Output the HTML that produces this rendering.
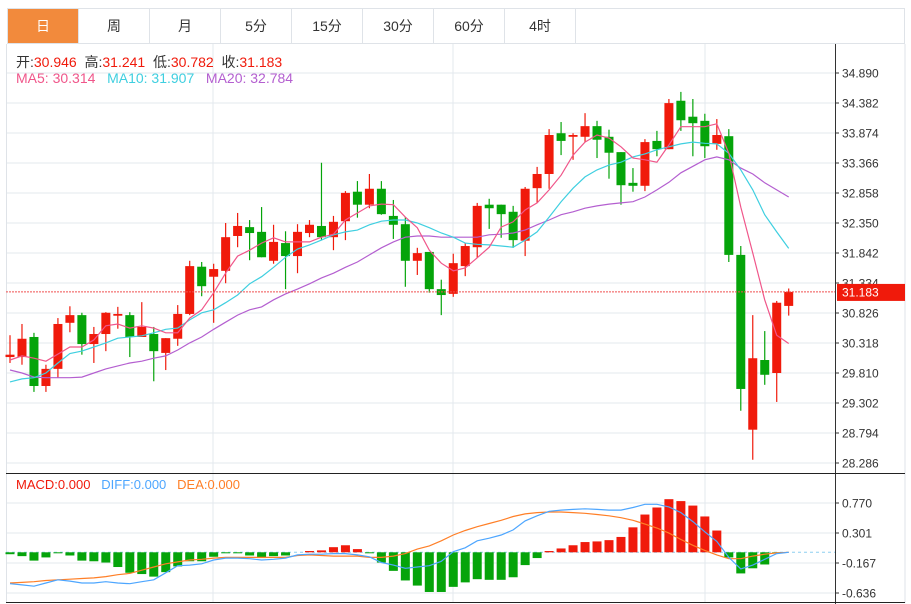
<!DOCTYPE html>
<html><head><meta charset="utf-8">
<style>
body{margin:0;background:#fff;width:911px;height:604px;overflow:hidden;font-family:"Liberation Sans","Noto Sans CJK SC",sans-serif;position:relative}
.tabs{position:absolute;left:7px;top:8px;width:898px;height:36px;border:1px solid #dfe3e8;box-sizing:border-box;display:flex}
.tab{width:70px;height:34px;line-height:34px;text-align:center;font-size:14px;color:#333;border-right:1px solid #dfe3e8}
.tab.on{background:#f28a3c;color:#fff}
.lg{position:absolute;font-size:14px;white-space:nowrap}
svg{position:absolute;left:0;top:0}
</style></head><body>
<div class="tabs">
<div class="tab on">日</div>
<div class="tab">周</div>
<div class="tab">月</div>
<div class="tab">5分</div>
<div class="tab">15分</div>
<div class="tab">30分</div>
<div class="tab">60分</div>
<div class="tab">4时</div>
</div>
<svg id="c" width="911" height="604"></svg>
<div class="lg" style="left:16px;top:52px;color:#333">开:<span style="color:#f01a0b">30.946</span>&nbsp;&nbsp;高:<span style="color:#f01a0b">31.241</span>&nbsp;&nbsp;低:<span style="color:#f01a0b">30.782</span>&nbsp;&nbsp;收:<span style="color:#f01a0b">31.183</span></div>
<div class="lg" style="left:16px;top:70px"><span style="color:#f0568a">MA5: 30.314</span>&nbsp;&nbsp;&nbsp;<span style="color:#3fcfe0">MA10: 31.907</span>&nbsp;&nbsp;&nbsp;<span style="color:#b45fd0">MA20: 32.784</span></div>
<div class="lg" style="left:16px;top:477px;font-size:13px"><span style="color:#f01a0b">MACD:0.000</span>&nbsp;&nbsp;&nbsp;<span style="color:#4da6ff">DIFF:0.000</span>&nbsp;&nbsp;&nbsp;<span style="color:#ff7f27">DEA:0.000</span></div>
<script>
const opens=[30.08,30.08,30.42,29.59,29.88,30.66,30.79,30.30,30.47,30.78,30.79,30.42,30.47,30.15,30.39,30.81,31.61,31.44,31.54,32.13,32.28,32.20,31.71,32.01,31.79,32.18,32.30,32.11,32.38,32.88,32.66,32.93,32.47,32.33,31.71,31.86,31.23,31.15,31.62,31.94,32.66,32.66,32.54,32.05,32.94,33.18,33.87,33.81,33.81,33.99,33.81,33.55,33.03,32.98,33.74,33.60,34.42,34.15,34.08,33.69,33.82,31.81,28.85,30.03,29.81,30.946];
const closes=[30.12,30.39,29.59,29.88,30.64,30.79,30.30,30.47,30.83,30.81,30.42,30.59,30.18,30.40,30.81,31.62,31.28,31.57,32.11,32.30,32.18,31.77,32.03,31.79,32.20,32.32,32.11,32.37,32.86,32.66,32.93,32.50,32.32,31.71,31.84,31.23,31.13,31.67,31.96,32.64,32.60,32.50,32.06,32.93,33.18,33.84,33.74,33.84,33.99,33.76,33.54,32.99,32.98,33.72,33.60,34.38,34.09,34.04,33.65,33.84,31.81,29.54,30.06,29.78,31.00,31.183];
const highs=[30.45,30.64,30.49,29.95,30.74,30.94,30.83,30.59,30.84,30.93,30.84,31.01,30.59,30.40,30.96,31.71,31.69,31.66,32.35,32.52,32.40,32.62,32.32,32.21,32.33,32.40,33.37,32.47,32.89,33.06,33.18,33.06,32.74,32.45,31.93,31.86,31.39,31.83,32.01,32.69,32.76,32.66,32.64,32.96,33.30,33.94,34.06,33.87,34.21,34.08,33.93,33.55,33.28,33.77,33.91,34.45,34.57,34.45,34.20,34.11,33.94,31.96,30.79,30.52,31.03,31.241];
const lows=[29.98,29.95,29.49,29.49,29.73,30.50,30.12,29.98,30.18,30.56,30.08,30.42,29.67,29.86,30.27,30.79,31.11,30.66,31.33,31.94,31.72,31.77,31.66,31.23,31.50,32.11,32.06,31.89,32.06,32.44,32.60,32.49,32.08,31.27,31.47,31.17,30.79,31.10,31.45,31.76,32.25,32.10,31.93,31.79,32.69,32.93,33.50,33.42,33.72,33.45,33.10,32.66,32.88,32.89,33.48,33.60,33.91,33.48,33.45,33.59,31.69,29.17,28.34,29.61,29.32,30.782];
const ma5=[30.03,30.10,30.06,30.01,30.13,30.25,30.25,30.37,30.61,30.64,30.57,30.61,30.57,30.49,30.49,30.74,30.88,31.17,31.50,31.79,31.89,32.01,32.10,32.03,32.03,32.03,32.11,32.16,32.40,32.52,32.64,32.67,32.66,32.45,32.27,31.89,31.67,31.54,31.59,31.76,31.94,32.28,32.37,32.57,32.69,32.91,33.16,33.50,33.72,33.84,33.79,33.64,33.45,33.42,33.38,33.67,33.98,33.98,33.98,34.03,33.53,32.62,31.84,31.05,30.45,30.31];
const ma10=[29.66,29.71,29.73,29.81,29.98,30.14,30.18,30.25,30.32,30.40,30.42,30.44,30.49,30.55,30.57,30.71,30.83,30.88,31.00,31.13,31.32,31.44,31.60,31.77,31.91,31.98,32.06,32.15,32.20,32.23,32.32,32.38,32.40,32.40,32.35,32.27,32.18,32.11,32.01,31.99,31.98,31.96,31.94,32.06,32.20,32.45,32.71,32.94,33.13,33.25,33.33,33.38,33.47,33.52,33.59,33.64,33.69,33.72,33.70,33.69,33.53,33.25,32.91,32.49,32.20,31.92];
const ma20=[29.86,29.81,29.74,29.73,29.73,29.73,29.74,29.81,29.88,29.93,29.98,30.01,30.06,30.10,30.20,30.32,30.42,30.55,30.67,30.79,30.88,30.93,31.05,31.15,31.23,31.32,31.42,31.50,31.60,31.69,31.81,31.93,32.03,32.11,32.13,32.13,32.11,32.11,32.11,32.11,32.15,32.16,32.18,32.23,32.32,32.40,32.49,32.54,32.60,32.64,32.67,32.69,32.71,32.79,32.91,33.04,33.20,33.31,33.42,33.47,33.42,33.28,33.18,33.03,32.91,32.79];
const macd=[-0.03,-0.06,-0.13,-0.08,-0.01,-0.05,-0.13,-0.14,-0.16,-0.23,-0.32,-0.34,-0.38,-0.31,-0.22,-0.14,-0.14,-0.07,-0.01,-0.01,-0.05,-0.09,-0.06,-0.05,0,0.02,0.03,0.08,0.11,0.05,-0.01,-0.16,-0.29,-0.44,-0.52,-0.62,-0.62,-0.54,-0.47,-0.42,-0.43,-0.43,-0.39,-0.20,-0.09,0.02,0.06,0.11,0.16,0.17,0.19,0.24,0.39,0.59,0.70,0.83,0.80,0.73,0.56,0.34,-0.08,-0.33,-0.25,-0.19,-0.01,0];
const diff=[-0.49,-0.51,-0.53,-0.48,-0.43,-0.45,-0.48,-0.48,-0.46,-0.48,-0.49,-0.46,-0.43,-0.32,-0.21,-0.20,-0.18,-0.12,-0.09,-0.09,-0.10,-0.12,-0.11,-0.09,-0.04,-0.03,-0.03,-0.02,-0.02,-0.04,-0.07,-0.16,-0.20,-0.25,-0.23,-0.21,-0.14,0.01,0.07,0.18,0.22,0.27,0.35,0.49,0.57,0.64,0.66,0.67,0.68,0.67,0.66,0.66,0.70,0.75,0.75,0.71,0.62,0.48,0.32,0.17,-0.08,-0.26,-0.20,-0.11,-0.02,0];
const dea=[-0.48,-0.47,-0.46,-0.44,-0.43,-0.42,-0.41,-0.40,-0.38,-0.35,-0.33,-0.28,-0.23,-0.18,-0.15,-0.12,-0.11,-0.09,-0.08,-0.08,-0.08,-0.08,-0.08,-0.08,-0.05,-0.04,-0.05,-0.06,-0.06,-0.06,-0.08,-0.08,-0.06,-0.02,0.05,0.10,0.18,0.27,0.34,0.40,0.45,0.50,0.56,0.60,0.62,0.63,0.63,0.62,0.61,0.59,0.57,0.54,0.50,0.44,0.38,0.30,0.20,0.11,0.03,-0.04,-0.10,-0.10,-0.06,-0.03,-0.01,0];
const priceTicks=["34.890","34.382","33.874","33.366","32.858","32.350","31.842","31.334","30.826","30.318","29.810","29.302","28.794","28.286"];
const macdTicks=["0.770","0.301","-0.167","-0.636"];
const lastPrice=31.183;

const svg=document.getElementById('c');
const NS='http://www.w3.org/2000/svg';
function mk(t,a){const e=document.createElementNS(NS,t);for(const k in a)e.setAttribute(k,a[k]);svg.appendChild(e);return e;}
const L=6,R=835,RB=905;
const xOf=i=>10+i*11.98;
const yP=p=>73+(34.890-p)/0.508*30;
const yM=v=>552.3-v*64;

for(let i=0;i<14;i++){const y=73+i*30;const g=mk('line',{x1:L,x2:R,y1:y,y2:y,stroke:'#e3e8ee','stroke-width':1});
}
[503,533,563,593].forEach(y=>{const g=mk('line',{x1:L,x2:R,y1:y,y2:y,stroke:'#e3e8ee'});
});
[213,453,705].forEach(x=>{const g=mk('line',{x1:x,x2:x,y1:44,y2:603,stroke:'#e3e8ee'});
});
mk('line',{x1:L+0.5,x2:L+0.5,y1:44,y2:603,stroke:'#dfe3e8'});
mk('line',{x1:RB,x2:RB,y1:44,y2:603,stroke:'#dfe3e8'});
const ax=mk('line',{x1:R+0.5,x2:R+0.5,y1:44,y2:604,stroke:'#333'});

mk('line',{x1:L,x2:RB,y1:473.5,y2:473.5,stroke:'#222'});
mk('line',{x1:L,x2:RB,y1:602.5,y2:602.5,stroke:'#222'});
priceTicks.forEach((t,i)=>{const y=73+i*30;mk('line',{x1:R,x2:R+4,y1:y,y2:y,stroke:'#333'});
const tx=mk('text',{x:R+7,y:y+4.5,'font-size':12,fill:'#333','font-family':'Liberation Sans, sans-serif'});tx.textContent=t;
});
macdTicks.forEach((t,i)=>{const y=503+i*30;mk('line',{x1:R,x2:R+4,y1:y,y2:y,stroke:'#333'});
const tx=mk('text',{x:R+7,y:y+4.5,'font-size':12,fill:'#333','font-family':'Liberation Sans, sans-serif'});tx.textContent=t;
});

const RED='#f01a0b',GRN='#05a40a';
for(let i=0;i<opens.length;i++){
 const x=xOf(i),up=closes[i]>=opens[i],c=up?RED:GRN;
 const w=mk('line',{x1:x,x2:x,y1:yP(highs[i]),y2:yP(lows[i]),stroke:c,'stroke-width':1.2});
 
 const t=yP(Math.max(opens[i],closes[i])),b=yP(Math.min(opens[i],closes[i]));
 const r=mk('rect',{x:x-4.5,y:t,width:9,height:Math.max(1.5,b-t),fill:c});
 
}
function line(arr,f,col,name){const p=mk('polyline',{points:arr.map((v,i)=>xOf(i).toFixed(1)+','+f(v).toFixed(1)).join(' '),fill:'none',stroke:col,'stroke-width':1.2});
 }
line(ma20,yP,'#b45fd0','ma20-line');
line(ma10,yP,'#3fcfe0','ma10-line');
line(ma5,yP,'#f0568a','ma5-line');

const ly=yP(lastPrice);
const pl=mk('line',{x1:L,x2:R,y1:ly,y2:ly,stroke:'#f05050','stroke-width':1,'stroke-dasharray':'2,1'});

const lb=mk('rect',{x:R+2,y:ly-8,width:68,height:17,fill:'#f01a0b'});

const lt=mk('text',{x:R+7,y:ly+4.5,'font-size':12,fill:'#fff','font-family':'Liberation Sans, sans-serif'});lt.textContent=lastPrice.toFixed(3);


const z=yM(0);
const zl=mk('line',{x1:L,x2:R,y1:z,y2:z,stroke:'#8ecff0','stroke-dasharray':'3,3'});

for(let i=0;i<macd.length;i++){const v=macd[i];if(v===0)continue;const y=yM(v);
 const r=mk('rect',{x:xOf(i)-4.5,y:Math.min(y,z),width:9,height:Math.max(1,Math.abs(y-z)),fill:v>0?RED:GRN});
 }
line(dea,yM,'#ff7f27','dea-line');
line(diff,yM,'#4da6ff','diff-line');
</script>
</body></html>
